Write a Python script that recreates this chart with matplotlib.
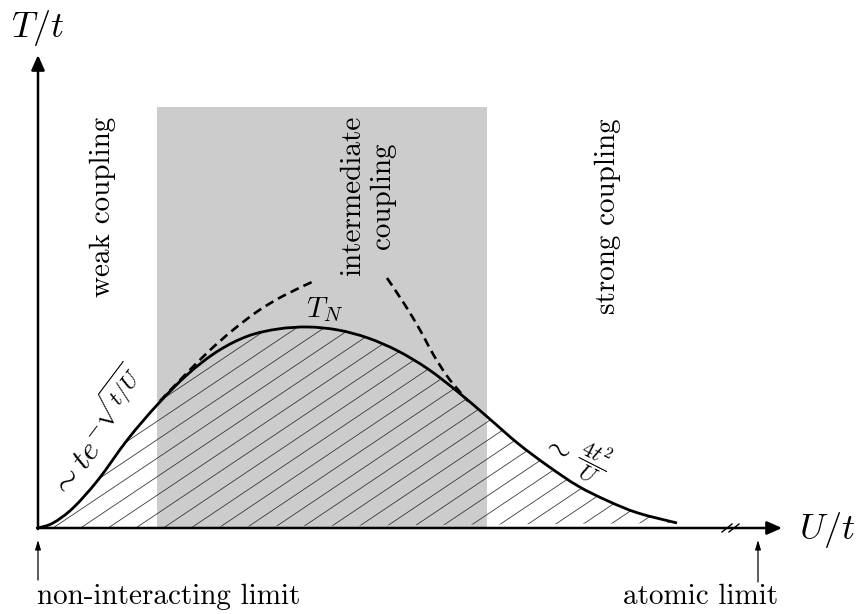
import numpy as np
import matplotlib
matplotlib.use("Agg")
import matplotlib.pyplot as plt
from matplotlib.collections import LineCollection
from matplotlib.patches import PathPatch, Rectangle
from matplotlib.path import Path

plt.rcParams["mathtext.fontset"] = "cm"
TEXT_FONT = ["cmr10", "DejaVu Serif"]

# Néel temperature T_N(U) sketched in units of t
u_curve = [0.00, 0.15, 0.35, 0.60, 0.90, 1.20, 1.50, 1.80, 2.10, 2.40, 2.70,
           3.00, 3.30, 3.60, 3.90, 4.20, 4.50, 4.80, 5.10, 5.40, 5.70, 6.00,
           6.39]
t_curve = [0.00, 0.05, 0.20, 0.48, 0.89, 1.24, 1.54, 1.77, 1.92, 1.99, 2.01,
           1.98, 1.90, 1.77, 1.59, 1.36, 1.105, 0.845, 0.62, 0.42, 0.27, 0.15,
           0.05]

# weak-coupling asymptote  ~ t exp(-sqrt(t/U))
u_weak = [1.22, 1.45, 1.70, 1.95, 2.20, 2.45, 2.74]
t_weak = [1.27, 1.51, 1.76, 1.98, 2.17, 2.32, 2.46]

# strong-coupling asymptote  ~ 4t^2/U
u_strong = [3.49, 3.67, 3.82, 3.95, 4.09, 4.22, 4.30]
t_strong = [2.50, 2.23, 1.98, 1.74, 1.52, 1.36, 1.27]

# intermediate-coupling window
u_mid = (1.19, 4.49)
t_mid_top = 4.21

# axis extents and markers
u_axis_end = 7.44
t_axis_end = 4.73
u_atomic = 7.20
u_break = 6.925


def smooth_path(u, t, close=False):
    """Cubic Bezier path through the given points (Catmull-Rom tangents)."""
    p = np.column_stack([u, t]).astype(float)
    n = len(p)
    verts = [p[0]]
    codes = [Path.MOVETO]
    for i in range(n - 1):
        p0 = p[max(i - 1, 0)]
        p1 = p[i]
        p2 = p[i + 1]
        p3 = p[min(i + 2, n - 1)]
        verts += [p1 + (p2 - p0) / 6.0, p2 - (p3 - p1) / 6.0, p2]
        codes += [Path.CURVE4] * 3
    if close:
        verts += [p[0]]
        codes += [Path.CLOSEPOLY]
    return Path(verts, codes)


fig = plt.figure(figsize=(8.61, 6.14), dpi=100)
ax = fig.add_axes([0, 0, 1, 1])
ax.set_xlim(-0.38, 8.23)
ax.set_ylim(-0.86, 5.28)
ax.axis("off")

# shaded intermediate region
ax.add_patch(Rectangle((u_mid[0], 0), u_mid[1] - u_mid[0], t_mid_top,
                       facecolor="#cccccc", edgecolor="none", zorder=1))

# hatched area below T_N (ordered phase)
region = PathPatch(smooth_path(u_curve, t_curve, close=True),
                   facecolor="none", edgecolor="none", zorder=2)
ax.add_patch(region)
slope, spacing = 0.67, 0.276
starts = np.arange(0.15 - 20 * spacing, 7.0, spacing)
segs = [[(s, 0.0), (s + 3.0, 3.0 * slope)] for s in starts]
hatch = LineCollection(segs, colors="#2a2a2a", linewidths=0.55, zorder=2)
ax.add_collection(hatch)
hatch.set_clip_path(region)

# T_N curve and asymptotes
ax.add_patch(PathPatch(smooth_path(u_curve, t_curve), facecolor="none",
                       edgecolor="black", lw=2.0, zorder=4))
for uu, tt in ((u_weak, t_weak), (u_strong, t_strong)):
    ax.add_patch(PathPatch(smooth_path(uu, tt), facecolor="none",
                           edgecolor="black", lw=1.9, ls=(0, (3.4, 2.0)),
                           zorder=3))

# axes with arrow heads
arrow = dict(arrowstyle="-|>,head_length=0.45,head_width=0.2",
             lw=1.8, color="black", shrinkA=0, shrinkB=0, mutation_scale=20)
ax.annotate("", xy=(0, t_axis_end), xytext=(0, -0.01), arrowprops=arrow, zorder=5)
ax.annotate("", xy=(u_axis_end, 0), xytext=(-0.01, 0), arrowprops=arrow, zorder=5)

# axis break marks
for du in (-0.035, 0.035):
    ax.plot([u_break + du - 0.05, u_break + du + 0.05], [-0.04, 0.04],
            color="black", lw=1.0, zorder=6)

# limit pointers
small = dict(arrowstyle="-|>,head_length=0.4,head_width=0.12",
             lw=0.9, color="black", shrinkA=0, shrinkB=0, mutation_scale=14)
ax.annotate("", xy=(0, -0.12), xytext=(0, -0.52), arrowprops=small)
ax.annotate("", xy=(u_atomic, -0.12), xytext=(u_atomic, -0.54), arrowprops=small)

ax.text(-0.01, -0.76, "non-interacting limit", family=TEXT_FONT, fontsize=21,
        ha="left", va="baseline")
ax.text(6.63, -0.76, "atomic limit", family=TEXT_FONT, fontsize=21,
        ha="center", va="baseline")

# axis titles
ax.text(0.0, 5.0, r"$T/t$", fontsize=26, ha="center", va="center")
ax.text(7.89, -0.02, r"$U/t$", fontsize=26, ha="center", va="center")

# regime labels
ax.text(0.65, 3.21, "weak coupling", family=TEXT_FONT, fontsize=21,
        rotation=90, ha="center", va="center")
ax.text(3.30, 3.32, "intermediate\ncoupling", family=TEXT_FONT, fontsize=21,
        rotation=90, ha="center", va="center", multialignment="center",
        linespacing=1.2)
ax.text(5.70, 3.12, "strong coupling", family=TEXT_FONT, fontsize=21,
        rotation=90, ha="center", va="center")

# curve annotations
ax.text(2.87, 2.18, r"$T_N$", fontsize=21, ha="center", va="center")
ax.text(0.60, 0.95, r"$\sim te^{-\sqrt{t/U}}$", fontsize=23, rotation=53,
        rotation_mode="anchor", ha="center", va="center")
ax.text(5.19, 0.82, r"$\sim$", fontsize=22, rotation=-27,
        rotation_mode="anchor", ha="center", va="center")
ax.text(5.55, 0.66, r"$\dfrac{4t^2}{U}$", fontsize=16, rotation=-27,
        rotation_mode="anchor", ha="center", va="center")

fig.savefig("out.png", dpi=100)
